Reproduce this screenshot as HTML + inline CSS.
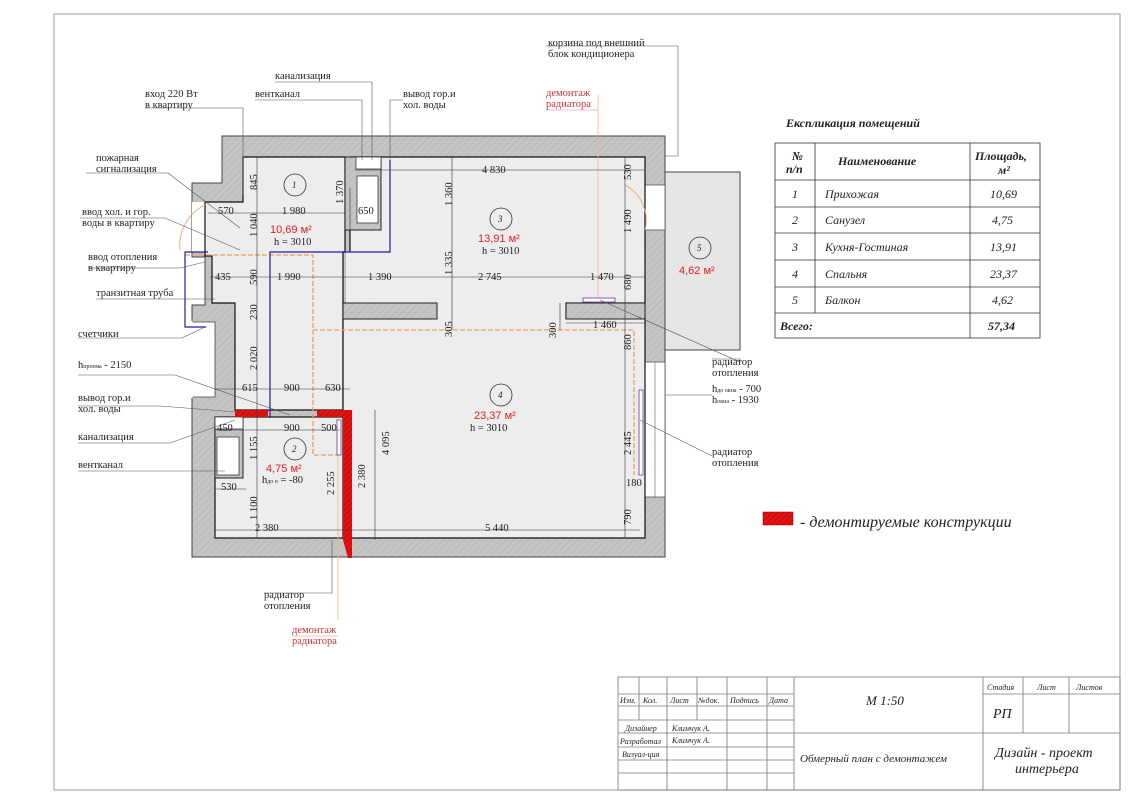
<!DOCTYPE html>
<html><head><meta charset="utf-8"><style>
body{margin:0;background:#fff}
svg text{font-family:"Liberation Serif",serif;fill:#222}
.s{font-size:10.5px}
.d{font-size:10.5px}
.r{font-family:"Liberation Sans",sans-serif!important;fill:#d22!important;font-size:11px}
.i{font-style:italic}
</style></head><body>
<svg width="1131" height="800" viewBox="0 0 1131 800" xmlns="http://www.w3.org/2000/svg">
<defs>
<pattern id="h" width="5" height="5" patternUnits="userSpaceOnUse" patternTransform="rotate(45)">
<rect width="5" height="5" fill="#c4c4c4"/><line x1="0" y1="0" x2="0" y2="5" stroke="#b0b0b0" stroke-width="1"/></pattern>
<pattern id="rh" width="4" height="4" patternUnits="userSpaceOnUse" patternTransform="rotate(45)">
<rect width="4" height="4" fill="#e21212"/><line x1="0" y1="0" x2="0" y2="4" stroke="#a00" stroke-width="1"/></pattern>
</defs>
<rect x="54" y="14" width="1066" height="776" fill="none" stroke="#999" stroke-width="1"/>

<polygon points="222,136 665,136 665,557 192,557 192,305 205,305 205,257 192,257 192,183 222,183" fill="url(#h)" stroke="#444" stroke-width="1"/>
<rect x="192" y="202" width="14" height="50" fill="#fff"/>
<polygon points="191,322 215,322 215,397 191,397" fill="#fff" stroke="#444" stroke-width=".8"/>
<line x1="191.5" y1="321" x2="191.5" y2="398" stroke="#fff" stroke-width="2"/>
<rect x="665" y="172" width="75" height="178" fill="#e6e6e6" stroke="#444"/>
<rect x="645" y="185" width="20" height="45" fill="#fff" stroke="#444" stroke-width=".7"/>
<rect x="645" y="362" width="20" height="135" fill="#fff" stroke="#444" stroke-width=".7"/>
<line x1="655" y1="362" x2="655" y2="497" stroke="#444" stroke-width=".5"/>

<g fill="#ededed" stroke="#111" stroke-width="1.2">
<polygon points="243,157 345,157 345,252 343,252 343,410 235,410 235,303 212,303 212,256 205,256 205,202 243,202"/>
<polygon points="350,157 645,157 645,303 566,303 566,318 645,318 645,538 343,538 343,303 350,303"/>
<rect x="215" y="417" width="128" height="121"/>
</g>
<rect x="346" y="252" width="6" height="51" fill="#ededed"/>
<rect x="343" y="303" width="94" height="16" fill="url(#h)" stroke="#222"/>
<rect x="566" y="303" width="79" height="16" fill="url(#h)" stroke="#222"/>
<rect x="345" y="157" width="36" height="73" fill="url(#h)" stroke="#222"/>
<rect x="356" y="157" width="25" height="12" fill="#fff" stroke="#222" stroke-width=".7"/>
<rect x="357" y="176" width="21" height="47" fill="#fff" stroke="#222" stroke-width=".7"/>
<rect x="215" y="417" width="28" height="61" fill="url(#h)" stroke="#222"/>
<rect x="215" y="417" width="28" height="12" fill="#fff" stroke="#222" stroke-width=".7"/>
<rect x="217" y="437" width="22" height="38" fill="#fff" stroke="#222" stroke-width=".7"/>
<rect x="235" y="410" width="33" height="7" fill="url(#rh)"/>
<rect x="317" y="410" width="29" height="7" fill="url(#rh)"/>
<polygon points="343,410 352,410 352,558 348,558 343,540" fill="url(#rh)"/>
<g fill="none" stroke="#f0a060" stroke-width="1.3" stroke-dasharray="5,2">
<polyline points="185,255 313,255 313,330 634,330 634,475"/>
<polyline points="313,330 313,455 340,455"/>
</g>
<line x1="598" y1="95" x2="598" y2="300" stroke="#f5b38a" stroke-width=".8"/>
<line x1="338" y1="455" x2="338" y2="620" stroke="#f5b38a" stroke-width=".8"/>
<path d="M625,185 A40,40 0 0 1 645,230" fill="none" stroke="#f0a060" stroke-width=".8"/>
<path d="M205,205 A45,45 0 0 0 180,250" fill="none" stroke="#f0a060" stroke-width=".8"/>
<rect x="583" y="298" width="32" height="4" fill="#fff" stroke="#6a3aa0" stroke-width=".8"/>
<rect x="639" y="390" width="4" height="85" fill="#fff" stroke="#6a3aa0" stroke-width=".8"/>
<rect x="337" y="420" width="4" height="35" fill="#fff" stroke="#6a3aa0" stroke-width=".8"/>
<polyline points="390,160 390,252 270,252 270,418" fill="none" stroke="#2a1aa0" stroke-width="1.2"/>
<polyline points="208,252 185,252 185,327 206,327" fill="none" stroke="#2a1aa0" stroke-width="1.2"/>

<g stroke="#333" stroke-width=".6">
<line x1="208" y1="213" x2="345" y2="213"/><line x1="355" y1="170" x2="645" y2="170"/>
<line x1="210" y1="277" x2="645" y2="277"/><line x1="215" y1="389" x2="350" y2="389"/>
<line x1="215" y1="430" x2="340" y2="430"/><line x1="215" y1="489" x2="246" y2="489"/>
<line x1="215" y1="530" x2="640" y2="530"/><line x1="566" y1="323" x2="645" y2="323"/>
<line x1="257" y1="157" x2="257" y2="538"/><line x1="452" y1="157" x2="452" y2="330"/>
<line x1="625" y1="157" x2="625" y2="538"/><line x1="375" y1="410" x2="375" y2="540"/>
<line x1="350" y1="188" x2="350" y2="230"/><line x1="560" y1="303" x2="560" y2="330"/>
</g>
<g class="d">
<text x="218" y="214">570</text><text x="282" y="214">1 980</text><text x="358" y="214">650</text>
<text x="482" y="173">4 830</text><text x="215" y="280">435</text><text x="277" y="280">1 990</text>
<text x="368" y="280">1 390</text><text x="478" y="280">2 745</text><text x="590" y="280">1 470</text>
<text x="593" y="328">1 460</text><text x="242" y="391">615</text><text x="284" y="391">900</text>
<text x="325" y="391">630</text><text x="217" y="431">450</text><text x="284" y="431">900</text>
<text x="321" y="431">500</text><text x="221" y="490">530</text><text x="255" y="531">2 380</text>
<text x="485" y="531">5 440</text><text x="626" y="486">180</text>
</g>
<g class="d">
<text transform="translate(257,190) rotate(-90)">845</text>
<text transform="translate(257,237) rotate(-90)">1 040</text>
<text transform="translate(257,285) rotate(-90)">590</text>
<text transform="translate(257,320) rotate(-90)">230</text>
<text transform="translate(257,370) rotate(-90)">2 020</text>
<text transform="translate(257,460) rotate(-90)">1 155</text>
<text transform="translate(257,520) rotate(-90)">1 100</text>
<text transform="translate(343,204) rotate(-90)">1 370</text>
<text transform="translate(452,206) rotate(-90)">1 360</text>
<text transform="translate(452,275) rotate(-90)">1 335</text>
<text transform="translate(452,337) rotate(-90)">305</text>
<text transform="translate(556,338) rotate(-90)">300</text>
<text transform="translate(631,180) rotate(-90)">530</text>
<text transform="translate(631,233) rotate(-90)">1 490</text>
<text transform="translate(631,290) rotate(-90)">680</text>
<text transform="translate(631,350) rotate(-90)">860</text>
<text transform="translate(631,455) rotate(-90)">2 445</text>
<text transform="translate(631,525) rotate(-90)">790</text>
<text transform="translate(389,455) rotate(-90)">4 095</text>
<text transform="translate(365,488) rotate(-90)">2 380</text>
<text transform="translate(334,495) rotate(-90)">2 255</text>
</g>
<g fill="none" stroke="#333" stroke-width=".8">
<circle cx="295" cy="185" r="11"/><circle cx="501" cy="219" r="11"/><circle cx="501" cy="395" r="11"/>
<circle cx="295" cy="449" r="11"/><circle cx="700" cy="248" r="11"/>
</g>
<g class="i" font-size="9"><text x="292" y="188">1</text><text x="498" y="222">3</text><text x="498" y="398">4</text><text x="292" y="452">2</text><text x="697" y="251">5</text></g>
<text class="r" x="270" y="233">10,69 м²</text><text class="s" x="274" y="245">h = 3010</text>
<text class="r" x="478" y="242">13,91 м²</text><text class="s" x="482" y="254">h = 3010</text>
<text class="r" x="474" y="419">23,37 м²</text><text class="s" x="470" y="431">h = 3010</text>
<text class="r" x="266" y="472">4,75 м²</text><text class="s" x="262" y="483">h<tspan font-size="6">до о</tspan> = -80</text>
<text class="r" x="679" y="274">4,62 м²</text>

<g stroke="#555" stroke-width=".6" fill="none">
<polyline points="145,108 243,108 243,195"/>
<polyline points="275,82 372,82 372,160"/>
<polyline points="255,100 362,100 362,160"/>
<polyline points="403,100 390,100 390,160"/>
<polyline points="546,46 678,46 678,156 665,156"/>
<polyline points="86,173 168,173 240,228"/>
<polyline points="80,218 165,218 240,250"/>
<polyline points="88,268 180,268 205,262"/>
<polyline points="96,299 215,299"/>
<polyline points="78,338 182,338 205,327"/>
<polyline points="78,375 175,375 290,415"/>
<polyline points="78,406 160,406 236,412"/>
<polyline points="78,443 170,443 235,420"/>
<polyline points="78,471 225,471"/>
<polyline points="264,593 332,593 332,540"/>
<polyline points="712,395 665,395"/>
<polyline points="712,359 740,359 740,362 600,300"/>
<polyline points="712,456 712,456 640,420"/>
</g>
<g stroke="#e0907a" stroke-width=".6" fill="none"><polyline points="546,110 598,110"/><polyline points="292,636 338,636"/></g>
<g class="s">
<text x="145" y="97">вход 220 Вт</text><text x="145" y="108">в квартиру</text>
<text x="275" y="79">канализация</text><text x="255" y="97">вентканал</text>
<text x="403" y="97">вывод гор.и</text><text x="403" y="108">хол. воды</text>
<text x="548" y="46">корзина под внешний</text><text x="548" y="57">блок кондиционера</text>
<text x="546" y="96" style="fill:#c33">демонтаж</text><text x="546" y="107" style="fill:#c33">радиатора</text>
<text x="96" y="161">пожарная</text><text x="96" y="172">сигнализация</text>
<text x="82" y="215">ввод хол. и гор.</text><text x="82" y="226">воды в квартиру</text>
<text x="88" y="260">ввод отопления</text><text x="88" y="271">в квартиру</text>
<text x="96" y="296">транзитная труба</text>
<text x="78" y="337">счетчики</text>
<text x="78" y="368">h<tspan font-size="6">проема</tspan> - 2150</text>
<text x="78" y="401">вывод гор.и</text><text x="78" y="412">хол. воды</text>
<text x="78" y="440">канализация</text><text x="78" y="468">вентканал</text>
<text x="264" y="598">радиатор</text><text x="264" y="609">отопления</text>
<text x="292" y="633" style="fill:#c33">демонтаж</text><text x="292" y="644" style="fill:#c33">радиатора</text>
<text x="712" y="365">радиатор</text><text x="712" y="376">отопления</text>
<text x="712" y="392">h<tspan font-size="6">до окна</tspan> - 700</text><text x="712" y="403">h<tspan font-size="6">окна</tspan> - 1930</text>
<text x="712" y="455">радиатор</text><text x="712" y="466">отопления</text>
</g>

<rect x="763" y="512" width="30" height="13" fill="url(#rh)" stroke="#800" stroke-width=".5"/>
<text x="800" y="527" class="i" font-size="16">- демонтируемые конструкции</text>

<text x="786" y="127" class="i" font-size="12" font-weight="bold">Експликация помещений</text>
<g stroke="#333" stroke-width=".8" fill="none">
<rect x="775" y="143" width="265" height="195"/>
<line x1="775" y1="180" x2="1040" y2="180"/><line x1="775" y1="207" x2="1040" y2="207"/>
<line x1="775" y1="233" x2="1040" y2="233"/><line x1="775" y1="260" x2="1040" y2="260"/>
<line x1="775" y1="287" x2="1040" y2="287"/><line x1="775" y1="313" x2="1040" y2="313"/>
<line x1="815" y1="143" x2="815" y2="313"/><line x1="970" y1="143" x2="970" y2="338"/>
</g>
<g class="i" font-size="12">
<text x="792" y="160" font-weight="bold">№</text><text x="786" y="173" font-weight="bold">п/п</text>
<text x="838" y="165" font-weight="bold">Наименование</text>
<text x="975" y="160" font-weight="bold">Площадь,</text><text x="998" y="174" font-weight="bold">м²</text>
<text x="792" y="198">1</text><text x="825" y="198">Прихожая</text><text x="990" y="198">10,69</text>
<text x="792" y="224">2</text><text x="825" y="224">Санузел</text><text x="992" y="224">4,75</text>
<text x="792" y="251">3</text><text x="825" y="251">Кухня-Гостиная</text><text x="990" y="251">13,91</text>
<text x="792" y="278">4</text><text x="825" y="278">Спальня</text><text x="990" y="278">23,37</text>
<text x="792" y="304">5</text><text x="825" y="304">Балкон</text><text x="992" y="304">4,62</text>
<text x="780" y="330" font-weight="bold">Всего:</text><text x="988" y="330" font-weight="bold">57,34</text>
</g>

<g stroke="#777" stroke-width=".8" fill="none">
<rect x="618" y="677" width="502" height="113"/>
<line x1="794" y1="677" x2="794" y2="790"/><line x1="983" y1="677" x2="983" y2="790"/>
<line x1="667" y1="677" x2="667" y2="790"/><line x1="727" y1="677" x2="727" y2="790"/>
<line x1="767" y1="677" x2="767" y2="790"/>
<line x1="639" y1="677" x2="639" y2="720"/><line x1="697" y1="677" x2="697" y2="720"/>
<line x1="618" y1="694" x2="794" y2="694"/><line x1="618" y1="706" x2="794" y2="706"/>
<line x1="618" y1="720" x2="794" y2="720"/><line x1="618" y1="733" x2="794" y2="733"/>
<line x1="618" y1="747" x2="794" y2="747"/><line x1="618" y1="760" x2="794" y2="760"/>
<line x1="618" y1="773" x2="794" y2="773"/>
<line x1="794" y1="733" x2="1120" y2="733"/>
<line x1="983" y1="694" x2="1120" y2="694"/>
<line x1="1023" y1="677" x2="1023" y2="733"/><line x1="1069" y1="677" x2="1069" y2="733"/>
</g>
<g class="i" font-size="8">
<text x="620" y="703">Изм.</text><text x="643" y="703">Кол.</text><text x="670" y="703">Лист</text>
<text x="698" y="703">№док.</text><text x="730" y="703">Подпись</text><text x="769" y="703">Дата</text>
<text x="625" y="731">Дизайнер</text><text x="672" y="731">Климчук А.</text>
<text x="620" y="744">Разработал</text><text x="672" y="743">Климчук А.</text>
<text x="622" y="757">Визуал-ция</text>
<text x="987" y="690">Стадия</text><text x="1037" y="690">Лист</text><text x="1076" y="690">Листов</text>
</g>
<text x="866" y="705" class="i" font-size="13">М 1:50</text>
<text x="993" y="718" class="i" font-size="14">РП</text>
<text x="800" y="762" class="i" font-size="11">Обмерный план с демонтажем</text>
<text x="995" y="757" class="i" font-size="14">Дизайн - проект</text>
<text x="1015" y="773" class="i" font-size="14">интерьера</text>
</svg>
</body></html>
